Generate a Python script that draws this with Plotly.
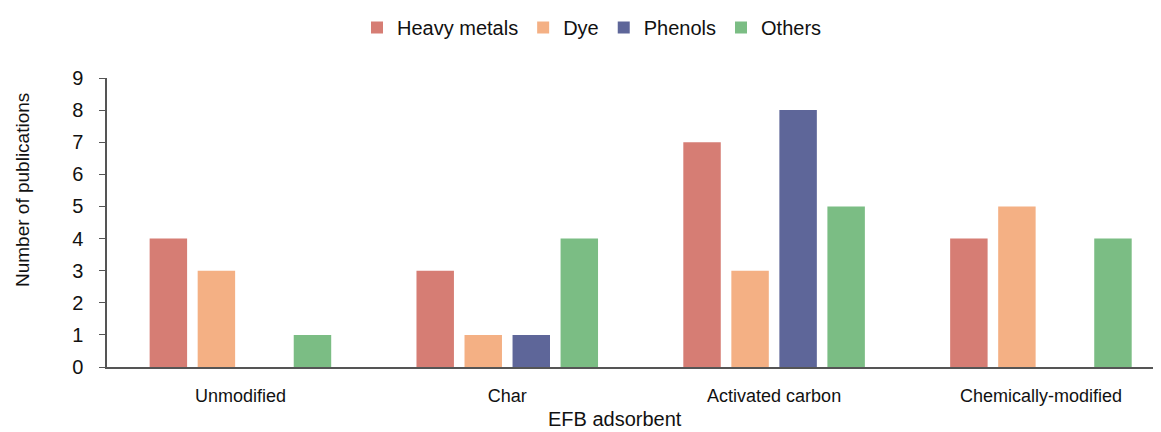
import plotly.graph_objects as go

categories = ["Unmodified", "Char", "Activated carbon", "Chemically-modified"]
heavy_metals = [4, 3, 7, 4]
dye = [3, 1, 3, 5]
phenols = [0, 1, 8, 0]
others = [1, 4, 5, 4]
y_ticks = [0, 1, 2, 3, 4, 5, 6, 7, 8, 9]

series = [
    ("Heavy metals", heavy_metals, "#D67D74"),
    ("Dye", dye, "#F4B084"),
    ("Phenols", phenols, "#5E6699"),
    ("Others", others, "#7BBD84"),
]

# page body has an 8px margin; work in page coordinates and subtract it
OFF = 8
W, H = 1161 - OFF, 432 - OFF
L = 107 - OFF
T = 78 - OFF
B = H - (367 - OFF)
R = 0
pw = W - L - R
ph = H - T - B


def px_x(page_x):
    return (page_x - OFF - L) / pw


def px_y(page_y):
    return (T + ph - (page_y - OFF)) / ph


fig = go.Figure()
for name, vals, color in series:
    fig.add_trace(go.Bar(x=categories, y=vals, name=name,
                         marker=dict(color=color, line=dict(width=0))))

fig.update_layout(
    width=W, height=H,
    margin=dict(l=L, r=R, t=T, b=B, autoexpand=False),
    paper_bgcolor="white", plot_bgcolor="white",
    barmode="group", bargap=0.28, bargroupgap=0.22,
    font=dict(family="Liberation Sans, Arial, sans-serif", color="#111111"),
    legend=dict(orientation="h", x=px_x(592), xanchor="center",
                y=1.0, yanchor="top", yref="container",
                font=dict(size=20), itemwidth=30, traceorder="normal"),
    xaxis=dict(range=[-0.5, 3.45], showline=True, linecolor="#555555", linewidth=2,
               ticks="", showgrid=False, automargin=False, ticklabelstandoff=11,
               tickfont=dict(size=18)),
    yaxis=dict(range=[0, 9], tickvals=y_ticks, showline=True, linecolor="#555555", linewidth=1.5,
               ticks="outside", ticklen=6, tickcolor="#555555", showgrid=False, zeroline=False,
               automargin=False, ticklabelstandoff=12,
               tickfont=dict(size=20)),
    annotations=[
        dict(text="EFB adsorbent", xref="paper", yref="paper",
             x=px_x(615), y=px_y(419), xanchor="center", yanchor="middle",
             showarrow=False, font=dict(size=20)),
        dict(text="Number of publications", xref="paper", yref="paper",
             x=px_x(22), y=px_y(190), xanchor="center", yanchor="middle",
             textangle=-90, showarrow=False, font=dict(size=19)),
    ],
)

fig.write_html("out.html")
